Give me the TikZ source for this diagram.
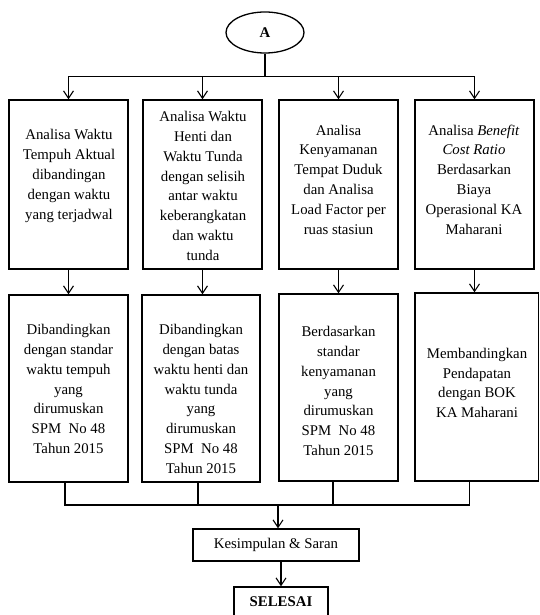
\documentclass[tikz,border=0pt]{standalone}
\usepackage{fontspec}
\setmainfont{Liberation Serif}
\usetikzlibrary{arrows.meta,shapes.geometric}
\tikzset{
  box/.style={draw, line width=1.3pt, rectangle, inner sep=0pt},
  txt/.style={align=center, font=\fontsize{14.8}{19.8}\selectfont, inner sep=0pt},
  conn/.style={line width=1.1pt},
  arr/.style={conn, -{Straight Barb[length=7.5pt,width=10pt,line width=1.1pt]}},
}
\begin{document}
\begin{tikzpicture}[x=1pt,y=-1pt]
\useasboundingbox (0,0) rectangle (539,615);
% start
\node[draw, ellipse, line width=1.3pt, minimum width=78pt, minimum height=41pt, inner sep=0pt,
      font=\fontsize{14.8}{19.8}\selectfont\bfseries] (A) at (265,32.5) {A};
\coordinate (h) at (265,76.5);
% row 1 boxes
\node[box, minimum width=119pt, minimum height=169pt] (b1) at (68.5,184.5) {};
\node[box, minimum width=119pt, minimum height=169pt] (b2) at (202.5,184.5) {};
\node[box, minimum width=119pt, minimum height=169pt] (b3) at (338.5,184.5) {};
\node[box, minimum width=119pt, minimum height=169pt] (b4) at (474.5,184.5) {};
\node[txt] (t1) at (69,176) {Analisa Waktu\\Tempuh Aktual\\dibandingan\\dengan waktu\\yang terjadwal};
\node[txt] (t2) at (203,186) {Analisa Waktu\\Henti dan\\Waktu Tunda\\dengan selisih\\antar waktu\\keberangkatan\\dan waktu\\tunda};
\node[txt] (t3) at (338.5,179.5) {Analisa\\Kenyamanan\\Tempat Duduk\\dan Analisa\\Load Factor per\\ruas stasiun};
\node[txt] (t4) at (474,179.5) {Analisa \textit{Benefit}\\\textit{Cost Ratio}\\Berdasarkan\\Biaya\\Operasional KA\\Maharani};
% row 2 boxes
\node[box, minimum width=119pt, minimum height=187pt] (c1) at (68.5,388.5) {};
\node[box, minimum width=118pt, minimum height=187pt] (c2) at (201,388.5) {};
\node[box, minimum width=119pt, minimum height=187pt] (c3) at (338.5,387.5) {};
\node[box, minimum width=123.5pt, minimum height=188pt] (c4) at (476.75,387) {};
\node[txt] (u1) at (68.5,389) {Dibandingkan\\dengan standar\\waktu tempuh\\yang\\dirumuskan\\SPM\ \ No 48\\Tahun 2015};
\node[txt] (u2) at (201,399) {Dibandingkan\\dengan batas\\waktu henti dan\\waktu tunda\\yang\\dirumuskan\\SPM\ \ No 48\\Tahun 2015};
\node[txt] (u3) at (338.5,391) {Berdasarkan\\standar\\kenyamanan\\yang\\dirumuskan\\SPM\ \ No 48\\Tahun 2015};
\node[txt] (u4) at (477,383) {Membandingkan\\Pendapatan\\dengan BOK\\KA Maharani};
% end boxes
\node[box, txt, minimum width=166pt, minimum height=32pt] (k) at (276,545) {Kesimpulan \& Saran};
\node[box, txt, minimum width=94pt, minimum height=30pt, font=\fontsize{14.8}{19.8}\selectfont\bfseries] (s) at (281,602) {SELESAI};
\coordinate (j) at (278,505);
% connectors
\draw[conn] (A.south) -- (h);
\draw[conn] (b1.north |- h) -- (b4.north |- h);
\foreach \b in {b1,b2,b3,b4}{
  \draw[arr] (\b.north |- h) -- (\b.north);
}
\draw[arr] (b1.south) -- (b1.south |- c1.north);
\draw[arr] (b2.south) -- (b2.south |- c2.north);
\draw[arr] (b3.south) -- (b3.south |- c3.north);
\draw[arr] (b4.south) -- (b4.south |- c4.north);
\draw[conn] ([xshift=-3.5pt]c1.south) |- ([xshift=-7.5pt]c4.south |- j) -- ([xshift=-7.5pt]c4.south);
\draw[conn] ([xshift=-3pt]c2.south) -- ([xshift=-3pt]c2.south |- j);
\draw[conn] ([xshift=-5.5pt]c3.south) -- ([xshift=-5.5pt]c3.south |- j);
\draw[arr] (j) -- (j |- k.north);
\draw[arr] (k.south -| s.north) -- (s.north);
\end{tikzpicture}
\end{document}
